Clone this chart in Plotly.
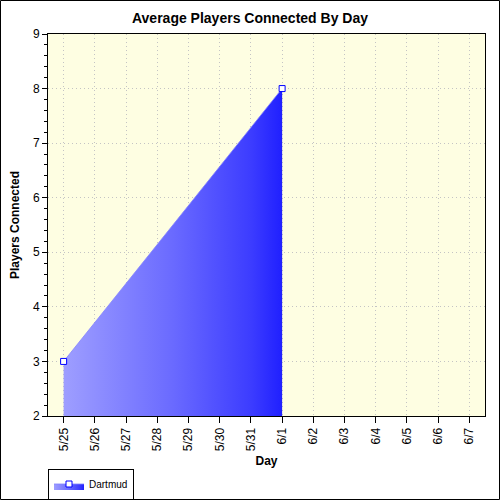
import plotly.graph_objects as go

days = ["5/25", "5/26", "5/27", "5/28", "5/29", "5/30", "5/31",
        "6/1", "6/2", "6/3", "6/4", "6/5", "6/6", "6/7"]
series_name = "Dartmud"
series_days = ["5/25", "6/1"]
series_values = [3, 8]

fig = go.Figure()
fig.add_trace(go.Scatter(
    x=series_days, y=series_values, name=series_name,
    mode="lines+markers",
    line=dict(color="rgba(130,130,255,0.8)", width=1),
    fill="tozeroy",
    fillgradient=dict(type="horizontal",
                      colorscale=[[0, "#9e9eff"], [0.5, "#6a6aff"],
                                  [0.86, "#3c3cff"], [1, "#2020ff"]]),
    marker=dict(symbol="square", size=6, color="white",
                line=dict(color="#0000ff", width=1)),
    showlegend=True,
))

L, R, T, B = 48, 15, 34, 84
W = H = 500
pw, ph = W - L - R, H - T - B

fig.update_layout(
    width=W, height=H,
    margin=dict(l=L, r=R, t=T, b=B, autoexpand=False),
    paper_bgcolor="white",
    plot_bgcolor="#fefee2",
    font=dict(family="Liberation Sans, Arial", size=12, color="black"),
    title=dict(text="<b>Average Players Connected By Day</b>",
               x=0.5, xref="container", xanchor="center",
               y=1 - 18 / H, yref="container", yanchor="middle",
               font=dict(size=14)),
    legend=dict(orientation="h", x=48 / W, xanchor="left", xref="container",
                y=1 - 484 / H, yanchor="middle", yref="container",
                bordercolor="black", borderwidth=1, bgcolor="white",
                font=dict(size=10), itemwidth=30,
                tracegroupgap=0),
    shapes=[dict(type="rect", xref="paper", yref="paper",
                 x0=-(L - 0.5) / pw, x1=(W - L - 0.5) / pw,
                 y0=-(B - 0.5) / ph, y1=(H - B - 0.5) / ph,
                 line=dict(color="black", width=1), layer="above")],
)
fig.update_xaxes(
    type="category", categoryorder="array", categoryarray=days,
    range=[-0.5, len(days) - 0.5], automargin=False,
    tickangle=-90, ticks="outside", ticklen=6, tickcolor="black",
    showline=True, linecolor="black", linewidth=1, mirror=True,
    showgrid=True, gridcolor="#c4c4c4", griddash="1px,3px", gridwidth=1,
    title=dict(text="<b>Day</b>", font=dict(size=12), standoff=8),
    tickfont=dict(size=12),
)
fig.update_yaxes(
    range=[2, 9], dtick=1, automargin=False,
    ticks="outside", ticklen=5, tickcolor="black",
    minor=dict(dtick=0.2, ticks="outside", ticklen=3, tickcolor="black", showgrid=False),
    showline=True, linecolor="black", linewidth=1, mirror=True,
    showgrid=True, gridcolor="#c4c4c4", griddash="1px,3px", gridwidth=1,
    zeroline=False,
    title=dict(text="<b>Players Connected</b>", font=dict(size=12), standoff=10),
    tickfont=dict(size=12),
)
fig.write_html("out.html")
